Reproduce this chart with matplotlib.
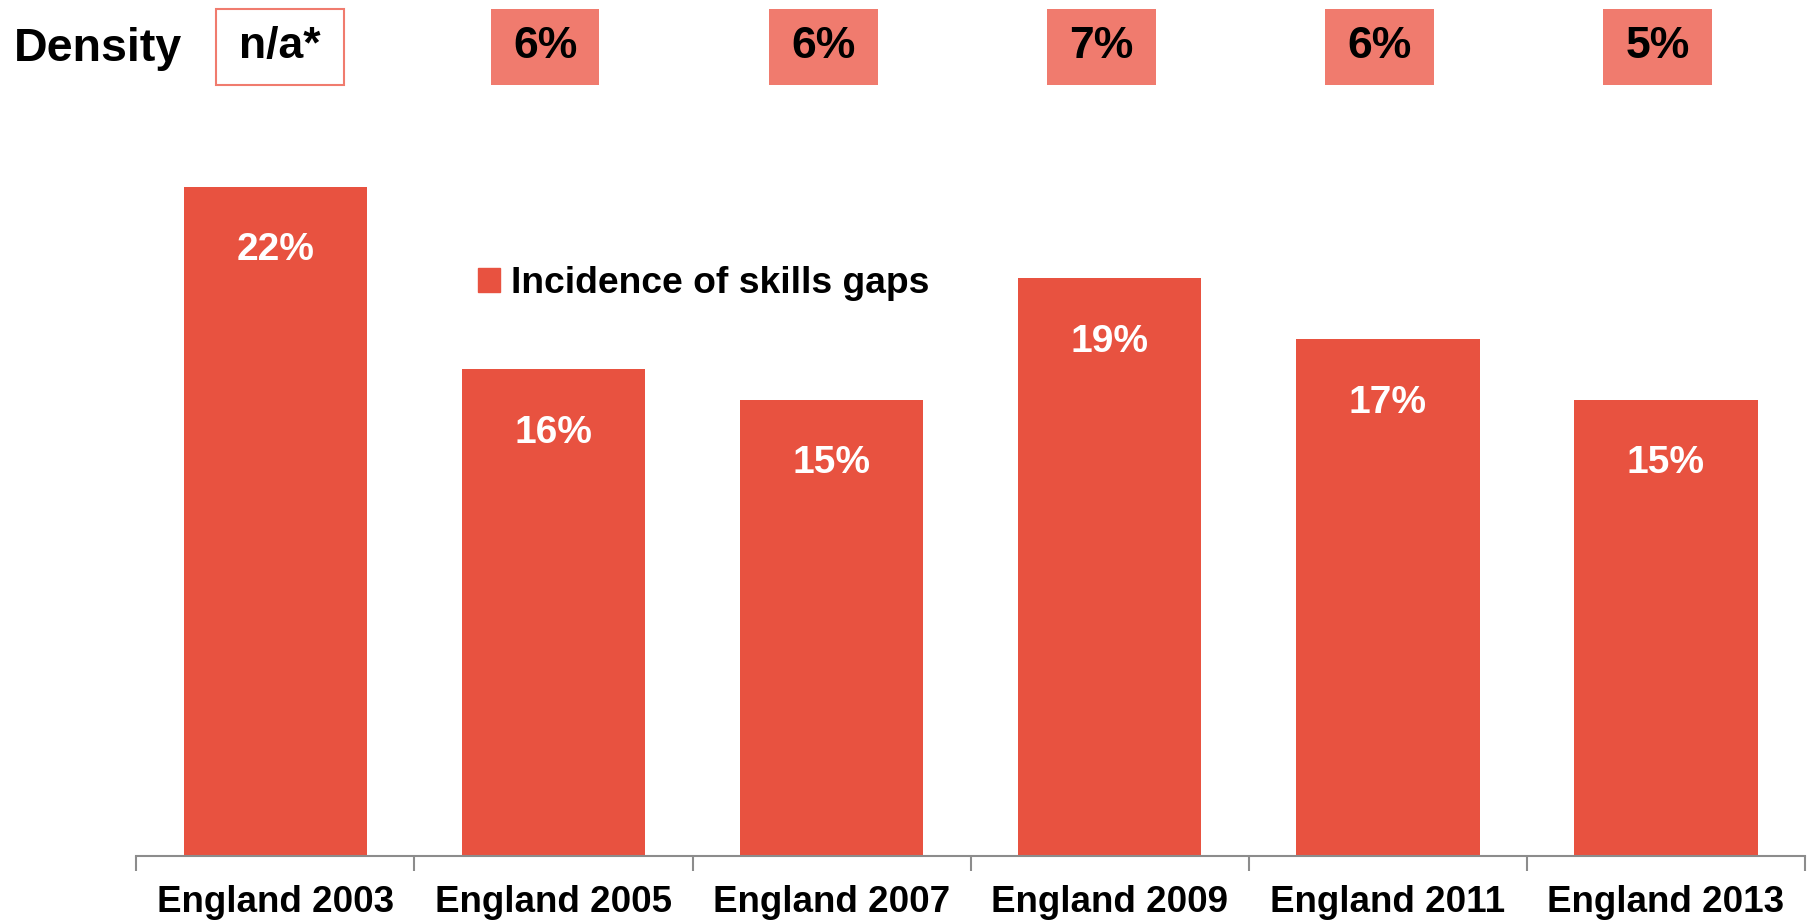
import matplotlib
matplotlib.use("Agg")
import matplotlib.pyplot as plt
import matplotlib.transforms as mtransforms
from matplotlib.patches import Rectangle, Patch
import numpy as np

years = ["England 2003", "England 2005", "England 2007",
         "England 2009", "England 2011", "England 2013"]
incidence = [22, 16, 15, 19, 17, 15]
density = ["n/a*", "6%", "6%", "7%", "6%", "5%"]

BAR = "#E85240"
BOX = "#F07B6E"
GREY = "#8C8C8C"

plt.rcParams["font.family"] = ["Liberation Sans", "DejaVu Sans"]
plt.rcParams["font.weight"] = "bold"

fig = plt.figure(figsize=(18.14, 9.21), dpi=100)
ax = fig.add_axes([0.0752, 0.0706, 0.9198, 0.826])

x = np.arange(len(years))
bars = ax.bar(x, incidence, width=0.66, color=BAR, label="Incidence of skills gaps")
for xi, v in zip(x, incidence):
    ax.text(xi, v - 2.1, f"{v}%", ha="center", va="center",
            color="white", fontsize=28, fontweight="bold")

ax.set_xlim(-0.5, len(years) - 0.5)
ax.set_ylim(0, 25)
ax.set_yticks([])
for s in ["top", "right", "left"]:
    ax.spines[s].set_visible(False)
ax.spines["bottom"].set_color(GREY)
ax.spines["bottom"].set_linewidth(1.5)

ax.set_xticks(x)
ax.set_xticklabels(years, fontsize=26.5, fontweight="bold")
ax.tick_params(axis="x", which="major", length=0, pad=21)
ax.set_xticks(np.arange(-0.5, len(years)), minor=True)
ax.tick_params(axis="x", which="minor", length=11, width=1.5, color=GREY)

# density row above the chart
trans = mtransforms.blended_transform_factory(ax.transData, fig.transFigure)
y0, y1 = 0.908, 0.990
for xi, d in zip(x, density):
    if d.startswith("n/a"):
        w = 0.46
        cx = xi + 0.015
        r = Rectangle((cx - w / 2, y0), w, y1 - y0, transform=trans,
                      facecolor="white", edgecolor=BOX, linewidth=1.5, clip_on=False)
    else:
        w = 0.39
        cx = xi - 0.03
        r = Rectangle((cx - w / 2, y0), w, y1 - y0, transform=trans,
                      facecolor=BOX, edgecolor="none", clip_on=False)
    fig.add_artist(r)
    fig.text(cx, (y0 + y1) / 2, d, transform=trans, ha="center", va="center",
             fontsize=32, fontweight="bold", color="black")

fig.text(0.0077, 0.947, "Density", ha="left", va="center",
         fontsize=33.5, fontweight="bold")

ax.legend(handles=[Patch(color=BAR, label="Incidence of skills gaps")],
          loc="center left", bbox_to_anchor=(0.2634, 0.692),
          bbox_transform=fig.transFigure, frameon=False,
          handlelength=0.6, handleheight=0.6, handletextpad=0.3,
          borderpad=0, borderaxespad=0,
          prop={"size": 26.8, "weight": "bold"})

fig.savefig("out.png", dpi=100)
